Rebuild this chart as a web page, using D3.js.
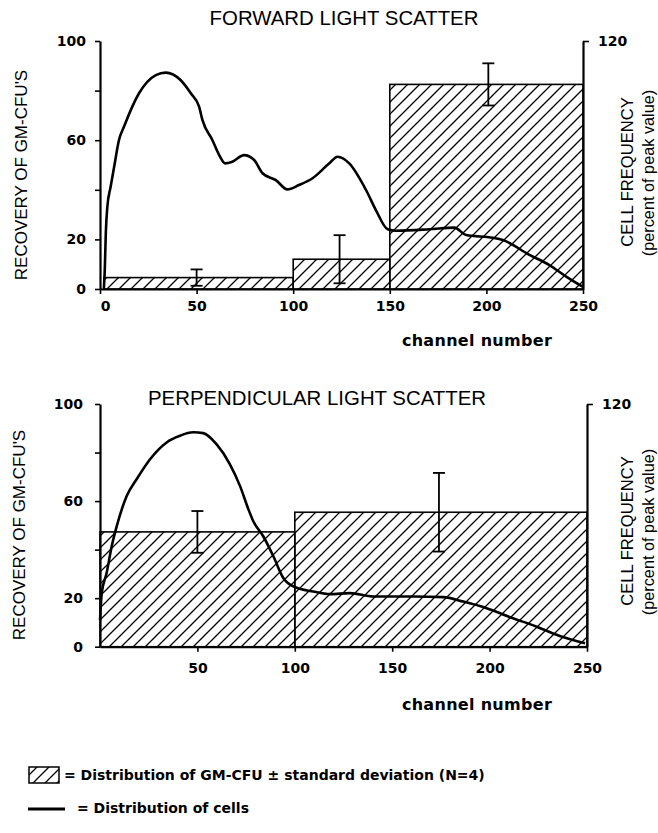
<!DOCTYPE html>
<html>
<head>
<meta charset="utf-8">
<script src="https://cdn.jsdelivr.net/npm/d3@7"></script>
<style>
  html, body { margin: 0; padding: 0; background: #fff; }
  svg { display: block; }
  .num { font-family: "DejaVu Sans", Verdana, sans-serif; font-weight: bold; font-size: 14px; fill: #000; }
  .lab { font-family: "Liberation Sans", Arial, Helvetica, sans-serif; fill: #000; }
</style>
</head>
<body>
<svg id="chart" width="658" height="833"></svg>
<script>
// ---------- DATA ----------
const panelTitles = ["FORWARD LIGHT SCATTER", "PERPENDICULAR LIGHT SCATTER"];
const leftTicks = [0, 20, 40, 60, 80, 100];
const leftTickLabels = [0, 20, 60, 100];
const rightTicks = [120];
const fwdXTicks = [0, 50, 100, 150, 200, 250];
const perpXTicks = [50, 100, 150, 200, 250];

// GM-CFU recovery bins (left axis)
const fwdBinStart = [2, 100, 150];
const fwdBinEnd   = [100, 150, 250];
const fwdBinMean  = [4.6, 12.0, 82.5];
const fwdBinSD    = [3.3, 9.7, 8.5];
const fwdErrX     = [50, 124, 201];

const perpBinStart = [0, 100];
const perpBinEnd   = [100, 250];
const perpBinMean  = [47.3, 55.4];
const perpBinSD    = [8.6, 16.2];
const perpErrX     = [50, 174];

// Cell frequency curves (right axis, percent of peak value)
const fwdChannel = [2, 2.5, 3, 3.8, 5.5, 7.3, 9.8, 12.4, 20.2, 28.9, 34, 41.8, 47, 51.3, 53, 58.2, 61.7, 64.8, 68.5, 74.6, 79.8, 84.1, 91, 97, 103, 110, 118.7, 123, 129, 137.7, 142.8, 148.9, 153.2, 170.5, 183.4, 189.5, 203.3, 208.5, 222.3, 232.6, 241.3, 250];
const fwdFreq    = [0, 10, 27, 39.8, 49.5, 59, 72, 78.5, 94.7, 103.5, 104.7, 101, 94.7, 88.2, 81.8, 72, 64.8, 60.8, 61.6, 64.8, 62.4, 56, 52.7, 48.2, 50.3, 53.6, 60.8, 64, 60.8, 47.9, 38.2, 28.9, 28.2, 28.9, 29.7, 26.1, 24.8, 23.7, 16.5, 11.6, 6, 1];

const perpChannel = [0, 0.9, 3.4, 6, 8.6, 13.7, 18.8, 25.7, 34.2, 41, 47.9, 53, 59.9, 66.7, 71.9, 76.2, 78.7, 83.8, 89, 94.1, 100, 109.5, 118, 128.3, 140.3, 160.8, 176.2, 186.5, 198.5, 210.5, 224.2, 236, 249];
const perpFreq    = [13, 26.5, 36.4, 49.6, 59.6, 74.5, 82.8, 92.7, 101, 104.3, 106, 105.6, 100, 90.2, 79.4, 67.9, 62, 54.6, 44.7, 34, 29.5, 27.3, 26, 26.5, 24.8, 24.8, 24.5, 22.3, 19, 14.6, 9.9, 5.3, 1.7];

const legendTexts = ["= Distribution of GM-CFU \u00B1 standard deviation (N=4)", "= Distribution of cells"];

// ---------- DRAW ----------
const svg = d3.select("#chart");
const defs = svg.append("defs");
defs.append("pattern")
  .attr("id", "hatch").attr("patternUnits", "userSpaceOnUse")
  .attr("width", 12).attr("height", 12)
  .append("path")
  .attr("d", "M0,12 L12,0 M-3,3 L3,-3 M9,15 L15,9")
  .attr("stroke", "#000").attr("stroke-width", 1.3).attr("fill", "none");

const panels = [
  { title: panelTitles[0], titleX: 344, titleY: 25,
    x0: 100, x1: 583, yb: 289, yt: 41,
    xTicks: fwdXTicks, start: fwdBinStart, end: fwdBinEnd, mean: fwdBinMean, sd: fwdBinSD, errX: fwdErrX,
    ch: fwdChannel, fr: fwdFreq, xPad: 7.5, leftPad: 9, xlabY: 346, ylabY: 175, ylabX: 26.7, rlabY: 172 },
  { title: panelTitles[1], titleX: 317, titleY: 405,
    x0: 100, x1: 587, yb: 646.7, yt: 404,
    xTicks: perpXTicks, start: perpBinStart, end: perpBinEnd, mean: perpBinMean, sd: perpBinSD, errX: perpErrX,
    ch: perpChannel, fr: perpFreq, xPad: 11.5, leftPad: 12, xlabY: 710, ylabY: 535, ylabX: 25, rlabY: 531 }
];

panels.forEach((p, pi) => {
  const g = svg.append("g");
  const x = d3.scaleLinear().domain([0, 250]).range([p.x0, p.x1]);
  const yL = d3.scaleLinear().domain([0, 100]).range([p.yb, p.yt]);
  const yR = d3.scaleLinear().domain([0, 120]).range([p.yb, p.yt]);

  // bars
  const bins = p.start.map((s, i) => ({ s, e: p.end[i], m: p.mean[i], sd: p.sd[i], ex: p.errX[i] }));
  g.selectAll("rect.bar").data(bins).join("rect")
    .attr("x", d => x(d.s)).attr("y", d => yL(d.m))
    .attr("width", d => x(d.e) - x(d.s)).attr("height", d => yL(0) - yL(d.m))
    .attr("fill", "url(#hatch)").attr("stroke", "#000").attr("stroke-width", 1.6);

  // error bars
  const eb = g.selectAll("g.err").data(bins).join("g");
  eb.append("line")
    .attr("x1", d => x(d.ex)).attr("x2", d => x(d.ex))
    .attr("y1", d => yL(d.m + d.sd)).attr("y2", d => yL(Math.max(0, d.m - d.sd)))
    .attr("stroke", "#000").attr("stroke-width", 1.8);
  [1, -1].forEach(sgn => {
    eb.append("line")
      .attr("x1", d => x(d.ex) - 6).attr("x2", d => x(d.ex) + 6)
      .attr("y1", d => yL(Math.max(0, d.m + sgn * d.sd))).attr("y2", d => yL(Math.max(0, d.m + sgn * d.sd)))
      .attr("stroke", "#000").attr("stroke-width", 1.8);
  });

  // curve
  const pts = p.ch.map((c, i) => [c, p.fr[i]]);
  g.append("path").datum(pts)
    .attr("d", d3.line().x(d => x(d[0])).y(d => yR(d[1])).curve(d3.curveMonotoneX))
    .attr("fill", "none").attr("stroke", "#000").attr("stroke-width", 2.6).attr("stroke-linejoin", "round");

  // axes
  const ax = g.append("g").attr("transform", `translate(0,${p.yb})`)
    .call(d3.axisBottom(x).tickValues(p.xTicks).tickSize(5).tickSizeOuter(0).tickPadding(p.xPad).tickFormat(d3.format("d")));
  const ay = g.append("g").attr("transform", `translate(${p.x0},0)`)
    .call(d3.axisLeft(yL).tickValues(leftTicks).tickSize(5).tickSizeOuter(0).tickPadding(p.leftPad)
      .tickFormat(d => leftTickLabels.includes(d) ? d : ""));
  const ar = g.append("g").attr("transform", `translate(${p.x1},0)`)
    .call(d3.axisRight(yR).tickValues(rightTicks).tickSize(6).tickSizeOuter(0).tickPadding(9));
  [ax, ay, ar].forEach(a => {
    a.select(".domain").attr("stroke-width", 2.2);
    a.selectAll(".tick line").attr("stroke-width", 1.6);
    a.selectAll("text").attr("class", "num").attr("font-family", null).attr("font-size", null);
  });
  if (pi === 0) ax.selectAll(".tick").filter(d => d === 0).select("text").attr("dx", 5);

  // titles & labels
  g.append("text").attr("class", "lab").attr("x", p.titleX).attr("y", p.titleY)
    .attr("text-anchor", "middle").attr("font-size", 20.4).text(p.title);
  g.append("text").attr("class", "num").attr("x", 477).attr("y", p.xlabY)
    .attr("text-anchor", "middle").style("font-size", "16px").style("letter-spacing", "0.3px").text("channel number");
  g.append("text").attr("class", "lab").attr("transform", `translate(${p.ylabX},${p.ylabY}) rotate(-90)`)
    .attr("text-anchor", "middle").attr("font-size", 17).text("RECOVERY OF GM-CFU'S");
  g.append("text").attr("class", "lab").attr("transform", `translate(632.5,${p.rlabY}) rotate(-90)`)
    .attr("text-anchor", "middle").attr("font-size", 16.6).text("CELL FREQUENCY");
  g.append("text").attr("class", "lab").attr("transform", `translate(653.5,${p.rlabY + 1}) rotate(-90)`)
    .attr("text-anchor", "middle").attr("font-size", 16.3).text("(percent of peak value)");
});

// legend
const lg = svg.append("g");
lg.append("rect").attr("x", 29).attr("y", 767).attr("width", 30).attr("height", 16)
  .attr("fill", "url(#hatch)").attr("stroke", "#000").attr("stroke-width", 1.5);
lg.append("text").attr("class", "num").attr("x", 64).attr("y", 780).text(legendTexts[0]);
lg.append("line").attr("x1", 28).attr("x2", 65).attr("y1", 809).attr("y2", 809)
  .attr("stroke", "#000").attr("stroke-width", 3);
lg.append("text").attr("class", "num").attr("x", 77).attr("y", 813).text(legendTexts[1]);
</script>
</body>
</html>
